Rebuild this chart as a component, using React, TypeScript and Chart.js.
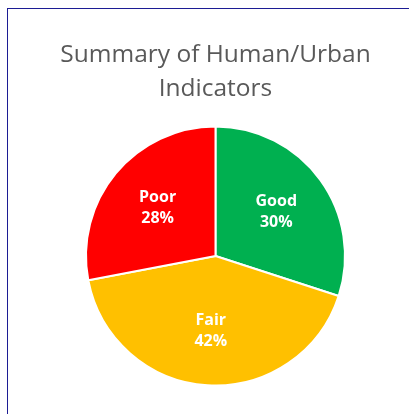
import React, { useEffect, useRef } from "react";
import { Chart, registerables } from "chart.js";

Chart.register(...registerables);

const categories = ["Good", "Fair", "Poor"];
const values = [30, 42, 28];
const colors = ["#00B050", "#FFC000", "#FF0000"];
const titleLines = ["Summary of Human/Urban", "Indicators"];

const sliceLabels = {
  id: "sliceLabels",
  afterDatasetsDraw(chart: any) {
    const ctx = chart.ctx;
    const meta = chart.getDatasetMeta(0);
    const data = chart.data.datasets[0].data as number[];
    const total = data.reduce((a, b) => a + b, 0);
    ctx.save();
    ctx.fillStyle = "#FFFFFF";
    ctx.font = "bold 16px 'Open Sans'";
    ctx.textAlign = "center";
    ctx.textBaseline = "middle";
    meta.data.forEach((arc: any, i: number) => {
      const p = arc.getProps(["x", "y", "startAngle", "endAngle", "outerRadius"], true);
      const mid = (p.startAngle + p.endAngle) / 2;
      const r = p.outerRadius * 0.58;
      const cx = p.x + Math.cos(mid) * r;
      const cy = p.y + Math.sin(mid) * r;
      const pct = Math.round((data[i] / total) * 100) + "%";
      ctx.fillText(chart.data.labels[i], cx, cy - 10.5);
      ctx.fillText(pct, cx, cy + 10.5);
    });
    ctx.restore();
  },
};

export default function App() {
  const ref = useRef<HTMLCanvasElement>(null);
  useEffect(() => {
    if (!ref.current) return;
    const chart = new Chart(ref.current, {
      type: "pie",
      data: {
        labels: categories,
        datasets: [
          {
            data: values,
            backgroundColor: colors,
            borderColor: "#FFFFFF",
            borderWidth: 2,
          },
        ],
      },
      options: {
        animation: false,
        responsive: true,
        maintainAspectRatio: false,
        layout: { padding: { left: 0, right: 0, top: 0, bottom: 19.5 } },
        plugins: {
          legend: { display: false },
          tooltip: { enabled: false },
          title: {
            display: true,
            text: titleLines,
            color: "#595959",
            font: { family: "'Open Sans'", size: 24.5, weight: "normal", lineHeight: 1.38 },
            padding: { top: 29.6, bottom: 19.3 },
          },
        },
      },
      plugins: [sliceLabels],
    });
    return () => chart.destroy();
  }, []);
  return (
    <div
      style={{
        position: "absolute",
        left: 7,
        top: 8,
        width: 402,
        height: 406,
        overflow: "hidden",
        boxSizing: "border-box",
        borderLeft: "1px solid #1c1c94",
        borderTop: "1px solid #1c1c94",
        background: "#fff",
      }}
    >
      <div style={{ position: "relative", width: 415, height: 397 }}>
        <canvas ref={ref} />
      </div>
    </div>
  );
}
